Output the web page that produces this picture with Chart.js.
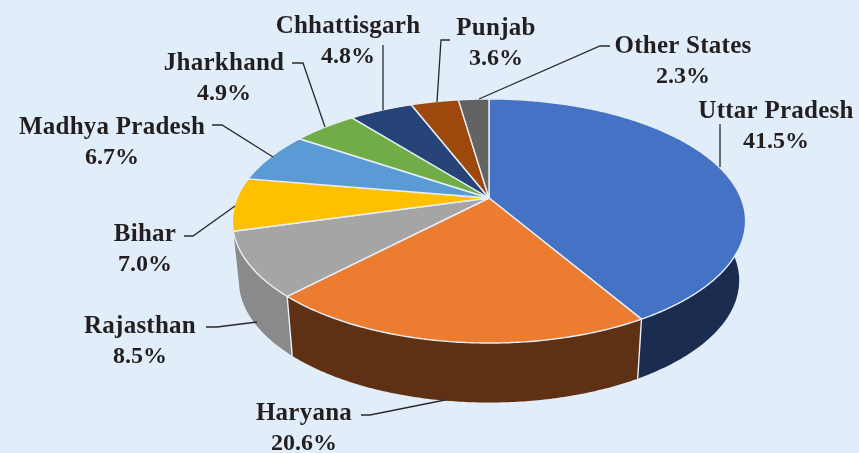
<!DOCTYPE html>
<html>
<head>
<meta charset="utf-8">
<title>State shares</title>
<script src="https://cdn.jsdelivr.net/npm/chart.js@4"></script>
<style>
  html, body { margin: 0; padding: 0; background: #e1edf9; overflow: hidden; }
  canvas { display: block; }
</style>
</head>
<body>
<canvas id="pie" width="859" height="453"></canvas>
<script>
// slices, clockwise from 12 o'clock
const states = ['Uttar Pradesh', 'Haryana', 'Rajasthan', 'Bihar', 'Madhya Pradesh', 'Jharkhand', 'Chhattisgarh', 'Punjab', 'Other States'];
const shares = [41.5, 20.6, 8.5, 7.0, 6.7, 4.9, 4.8, 3.6, 2.3];

const topColors = ['#4472c4', '#ec7c30', '#a5a5a5', '#ffc000', '#5b9bd5', '#70ad47', '#264478', '#9e480e', '#636363'];
const wallColors = ['#1a2d50', '#5e3014', '#8a8a8a', null, null, null, null, null, null];

// label placement: centre x, baseline of the name line
const labelX = [776, 304, 140, 145, 112, 224, 348, 496, 683];
const labelY = [118, 420, 333, 241, 134, 70, 33, 35, 53];
const leaders = [
    [[720, 124], [720, 167]],
    [[361, 415], [370, 415], [445, 400]],
    [[206, 327], [217, 327], [257, 322]],
    [[184, 236], [193, 236], [235, 206]],
    [[212, 125], [222, 125], [273, 157]],
    [[292, 63], [303, 63], [325, 127]],
    [[383, 45], [383, 110]],
    [[450, 40], [441, 40], [437, 102]],
    [[610, 46], [600, 46], [479, 99]]
];

// tilted disc: the far half is foreshortened more than the near half
const TILT = 0.1885;
const RX = 252;
const RY = 117.7;
// bottom disc of the extrusion
const BASE_SCALE = 0.975;
const BASE_DROP = 59.5;

function project(arc, angle) {
    const c = Math.cos(angle);
    const s = Math.sin(angle);
    const w = 1 - TILT * s;
    return { x: arc.x + RX * c / w, y: arc.y + RY * s / w };
}

function projectBase(arc, angle) {
    const p = project(arc, angle);
    return {
        x: arc.x + (p.x - arc.x) * BASE_SCALE,
        y: p.y + BASE_DROP
    };
}

function arcPoints(arc, fn, from, to) {
    const steps = Math.max(2, Math.ceil(Math.abs(to - from) / 0.01));
    const pts = [];
    for (let i = 0; i <= steps; i++) {
        pts.push(fn(arc, from + (to - from) * i / steps));
    }
    return pts;
}

function tracePath(ctx, pts) {
    pts.forEach((p, i) => {
        if (i === 0) ctx.moveTo(p.x, p.y);
        else ctx.lineTo(p.x, p.y);
    });
}

const pie3d = {
    id: 'pie3d',
    beforeDatasetsDraw(chart) {
        const ctx = chart.ctx;
        const arcs = chart.getDatasetMeta(0).data;
        ctx.save();
        ctx.lineJoin = 'round';

        // side walls first
        arcs.forEach((arc, i) => {
            if (!wallColors[i]) return;
            const top = arcPoints(arc, project, arc.startAngle, arc.endAngle);
            const base = arcPoints(arc, projectBase, arc.endAngle, arc.startAngle);
            ctx.beginPath();
            tracePath(ctx, top.concat(base));
            ctx.closePath();
            ctx.fillStyle = wallColors[i];
            ctx.fill();
        });

        // light seams between the visible walls
        ctx.strokeStyle = '#e6eef7';
        ctx.lineWidth = 1.4;
        [arcs[0].endAngle, arcs[1].endAngle].forEach(angle => {
            const a = project(arcs[0], angle);
            const b = projectBase(arcs[0], angle);
            ctx.beginPath();
            ctx.moveTo(a.x, a.y);
            ctx.lineTo(b.x, b.y);
            ctx.stroke();
        });

        // top face
        arcs.forEach(arc => {
            const rim = arcPoints(arc, project, arc.startAngle, arc.endAngle);
            ctx.beginPath();
            tracePath(ctx, [{ x: arc.x, y: arc.y }].concat(rim));
            ctx.closePath();
            ctx.fillStyle = arc.options.backgroundColor;
            ctx.fill();
            ctx.strokeStyle = '#e6eef7';
            ctx.lineWidth = 1.4;
            ctx.stroke();
        });
        ctx.restore();
        return false; // the flat arcs are replaced by the drawing above
    },
    afterDraw(chart) {
        const ctx = chart.ctx;
        ctx.save();
        ctx.strokeStyle = '#2b2829';
        ctx.lineWidth = 1.3;
        leaders.forEach(line => {
            ctx.beginPath();
            line.forEach((p, i) => {
                if (i === 0) ctx.moveTo(p[0], p[1]);
                else ctx.lineTo(p[0], p[1]);
            });
            ctx.stroke();
        });

        ctx.fillStyle = '#231f20';
        ctx.textAlign = 'center';
        ctx.textBaseline = 'alphabetic';
        states.forEach((name, i) => {
            ctx.font = 'bold 25px "Liberation Serif"';
            ctx.letterSpacing = '0.25px';
            ctx.fillText(name, labelX[i], labelY[i]);
            ctx.font = 'bold 24px "Liberation Serif"';
            ctx.letterSpacing = '0px';
            ctx.fillText(shares[i].toFixed(1) + '%', labelX[i], labelY[i] + 30);
        });
        ctx.restore();
    }
};

new Chart(document.getElementById('pie').getContext('2d'), {
    type: 'pie',
    data: {
        labels: states,
        datasets: [{
            data: shares,
            backgroundColor: topColors,
            borderWidth: 0
        }]
    },
    options: {
        responsive: false,
        animation: false,
        // puts the pie centre on the point where the slices meet
        layout: { padding: { left: 119, right: 0, top: 0, bottom: 57 } },
        plugins: {
            legend: { display: false },
            tooltip: { enabled: false }
        }
    },
    plugins: [pie3d]
});
</script>
</body>
</html>
